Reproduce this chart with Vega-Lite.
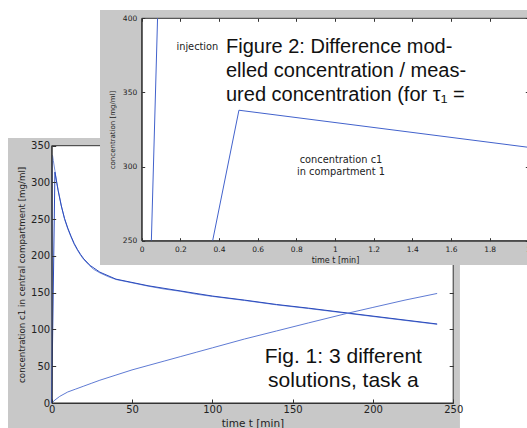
{
  "$schema": "https://vega.github.io/schema/vega-lite/v6.json",
  "width": 527,
  "height": 428,
  "padding": 0,
  "autosize": "none",
  "background": "white",
  "config": {
    "view": {"stroke": null},
    "axis": {
      "grid": false,
      "labelFont": "DejaVu Sans", "titleFont": "DejaVu Sans", "titleFontWeight": "normal",
      "labelColor": "#222", "titleColor": "#222", "domainColor": "#333", "tickColor": "#333",
      "labelFlush": false, "labelOverlap": false, "labelBound": false
    }
  },
  "datasets": {
    "fig1": [
      {"s": "solution 1", "t": 0, "c": 0}, {"s": "solution 1", "t": 0.5, "c": 337}, {"s": "solution 1", "t": 1, "c": 330},
      {"s": "solution 1", "t": 2, "c": 316}, {"s": "solution 1", "t": 3, "c": 302}, {"s": "solution 1", "t": 4, "c": 290},
      {"s": "solution 1", "t": 5, "c": 279}, {"s": "solution 1", "t": 6, "c": 268}, {"s": "solution 1", "t": 8, "c": 250},
      {"s": "solution 1", "t": 10, "c": 237}, {"s": "solution 1", "t": 12, "c": 226}, {"s": "solution 1", "t": 14, "c": 216},
      {"s": "solution 1", "t": 16, "c": 208}, {"s": "solution 1", "t": 18, "c": 201}, {"s": "solution 1", "t": 20, "c": 195},
      {"s": "solution 1", "t": 23, "c": 188}, {"s": "solution 1", "t": 26, "c": 182}, {"s": "solution 1", "t": 30, "c": 177},
      {"s": "solution 1", "t": 35, "c": 172}, {"s": "solution 1", "t": 40, "c": 168}, {"s": "solution 1", "t": 50, "c": 163.5},
      {"s": "solution 1", "t": 60, "c": 159}, {"s": "solution 1", "t": 70, "c": 155}, {"s": "solution 1", "t": 80, "c": 152},
      {"s": "solution 1", "t": 90, "c": 148}, {"s": "solution 1", "t": 100, "c": 145}, {"s": "solution 1", "t": 120, "c": 139.5},
      {"s": "solution 1", "t": 140, "c": 133.5}, {"s": "solution 1", "t": 160, "c": 128.5}, {"s": "solution 1", "t": 184, "c": 122},
      {"s": "solution 1", "t": 210, "c": 115}, {"s": "solution 1", "t": 240, "c": 107},
      {"s": "solution 2", "t": 0, "c": 0}, {"s": "solution 2", "t": 2, "c": 314}, {"s": "solution 2", "t": 4, "c": 289},
      {"s": "solution 2", "t": 6, "c": 268}, {"s": "solution 2", "t": 8, "c": 251}, {"s": "solution 2", "t": 10, "c": 238},
      {"s": "solution 2", "t": 12, "c": 227}, {"s": "solution 2", "t": 14, "c": 217}, {"s": "solution 2", "t": 16, "c": 209},
      {"s": "solution 2", "t": 18, "c": 202}, {"s": "solution 2", "t": 20, "c": 196}, {"s": "solution 2", "t": 24, "c": 187},
      {"s": "solution 2", "t": 30, "c": 178}, {"s": "solution 2", "t": 40, "c": 168.5}, {"s": "solution 2", "t": 50, "c": 164},
      {"s": "solution 2", "t": 60, "c": 159.5}, {"s": "solution 2", "t": 80, "c": 152.5}, {"s": "solution 2", "t": 100, "c": 145.5},
      {"s": "solution 2", "t": 120, "c": 140}, {"s": "solution 2", "t": 140, "c": 134}, {"s": "solution 2", "t": 160, "c": 129},
      {"s": "solution 2", "t": 184, "c": 122.5}, {"s": "solution 2", "t": 210, "c": 115.5}, {"s": "solution 2", "t": 240, "c": 107.5},
      {"s": "solution 3", "t": 0, "c": 0}, {"s": "solution 3", "t": 2, "c": 4}, {"s": "solution 3", "t": 5, "c": 9},
      {"s": "solution 3", "t": 10, "c": 15}, {"s": "solution 3", "t": 15, "c": 19}, {"s": "solution 3", "t": 20, "c": 23},
      {"s": "solution 3", "t": 25, "c": 27}, {"s": "solution 3", "t": 30, "c": 31}, {"s": "solution 3", "t": 40, "c": 38},
      {"s": "solution 3", "t": 50, "c": 45}, {"s": "solution 3", "t": 60, "c": 51}, {"s": "solution 3", "t": 70, "c": 57},
      {"s": "solution 3", "t": 80, "c": 63}, {"s": "solution 3", "t": 90, "c": 69}, {"s": "solution 3", "t": 100, "c": 75},
      {"s": "solution 3", "t": 120, "c": 87}, {"s": "solution 3", "t": 140, "c": 98}, {"s": "solution 3", "t": 160, "c": 109},
      {"s": "solution 3", "t": 184, "c": 122}, {"s": "solution 3", "t": 200, "c": 130}, {"s": "solution 3", "t": 220, "c": 140},
      {"s": "solution 3", "t": 240, "c": 149}
    ],
    "fig2": [
      {"seg": "injection", "t": 0.05, "c": 250}, {"seg": "injection", "t": 0.082, "c": 400},
      {"seg": "c1", "t": 0.367, "c": 250}, {"seg": "c1", "t": 0.503, "c": 338}, {"seg": "c1", "t": 2, "c": 313}
    ]
  },
  "layer": [
    {
      "data": {"values": [{}]},
      "mark": {"type": "rect", "fill": "#c8c8c8"},
      "encoding": {
        "x": {"datum": -27.2, "type": "quantitative", "scale": {"domain": [0, 250], "range": [51.7, 453.2], "nice": false, "zero": false}, "axis": null},
        "x2": {"datum": 254.2},
        "y": {"datum": -37, "type": "quantitative", "scale": {"domain": [0, 350], "range": [403, 145.7], "nice": false, "zero": false}, "axis": null},
        "y2": {"datum": 360.5}
      }
    },
    {
      "data": {"values": [{}]},
      "mark": {"type": "rect", "fill": "white", "stroke": "#333", "strokeWidth": 1},
      "encoding": {
        "x": {"datum": 0, "type": "quantitative", "scale": {"domain": [0, 250], "range": [51.7, 453.2], "nice": false, "zero": false},
          "axis": {"zindex": 1, "orient": "bottom", "offset": -25, "values": [0, 50, 100, 150, 200, 250], "tickSize": -4, "labelPadding": 5.5, "labelFontSize": 10, "title": "time t [min]", "titleFontSize": 10.5, "titlePadding": 4}},
        "x2": {"datum": 250},
        "y": {"datum": 0, "type": "quantitative", "scale": {"domain": [0, 350], "range": [403, 145.7], "nice": false, "zero": false},
          "axis": {"zindex": 1, "orient": "left", "offset": -51.7, "values": [0, 50, 100, 150, 200, 250, 300, 350], "tickSize": -4, "labelPadding": 6, "labelFontSize": 10, "title": "concentration c1 in central compartment [mg/ml]", "titleFontSize": 8.7, "titlePadding": 4}},
        "y2": {"datum": 350}
      }
    },
    {
      "data": {"name": "fig1"},
      "mark": {"type": "line", "strokeWidth": 1},
      "encoding": {
        "x": {"field": "t", "type": "quantitative", "scale": {"domain": [0, 250], "range": [51.7, 453.2], "nice": false, "zero": false}, "axis": null},
        "y": {"field": "c", "type": "quantitative", "scale": {"domain": [0, 350], "range": [403, 145.7], "nice": false, "zero": false}, "axis": null},
        "color": {"field": "s", "type": "nominal", "scale": {"domain": ["solution 1", "solution 2", "solution 3"], "range": ["#7890da", "#2a4abd", "#5f7bd4"]}, "legend": null}
      }
    },
    {
      "data": {"values": [{"note": "Fig. 1: 3 different\nsolutions, task a"}]},
      "mark": {"type": "text", "font": "Liberation Sans", "fontSize": 21, "align": "center", "baseline": "alphabetic", "lineBreak": "\n", "lineHeight": 24, "color": "#111"},
      "encoding": {
        "x": {"datum": 181.6, "type": "quantitative", "scale": {"domain": [0, 250], "range": [51.7, 453.2], "nice": false, "zero": false}, "axis": null},
        "y": {"datum": 54, "type": "quantitative", "scale": {"domain": [0, 350], "range": [403, 145.7], "nice": false, "zero": false},
          "axis": {"zindex": 1, "orient": "right", "offset": -73.8, "values": [50, 100, 150], "labels": false, "domain": false, "tickSize": -4, "title": null}},
        "text": {"field": "note", "type": "nominal"}
      }
    },
    {
      "data": {"values": [{}]},
      "mark": {"type": "rect", "fill": "#c8c8c8"},
      "encoding": {
        "x": {"datum": -0.2157, "type": "quantitative", "scale": {"domain": [0, 2], "range": [141.7, 528.3], "nice": false, "zero": false}, "axis": null},
        "x2": {"datum": 2.2},
        "y": {"datum": 233.6, "type": "quantitative", "scale": {"domain": [250, 400], "range": [240.7, 18.3], "nice": false, "zero": false}, "axis": null},
        "y2": {"datum": 405.6}
      }
    },
    {
      "data": {"values": [{}]},
      "mark": {"type": "rect", "fill": "white", "stroke": "#333", "strokeWidth": 1},
      "encoding": {
        "x": {"datum": 0, "type": "quantitative", "scale": {"domain": [0, 2], "range": [141.7, 528.3], "nice": false, "zero": false},
          "axis": {"zindex": 2, "orient": "bottom", "offset": -187.3, "values": [0, 0.2, 0.4, 0.6, 0.8, 1, 1.2, 1.4, 1.6, 1.8, 2], "format": "~g", "tickSize": -3, "labelPadding": 7.5, "labelFontSize": 7.5, "title": "time t [min]", "titleFontSize": 8, "titlePadding": 4}},
        "x2": {"datum": 2},
        "y": {"datum": 250, "type": "quantitative", "scale": {"domain": [250, 400], "range": [240.7, 18.3], "nice": false, "zero": false},
          "axis": {"zindex": 2, "orient": "left", "offset": -141.7, "values": [250, 300, 350, 400], "tickSize": -3, "labelPadding": 8, "labelFontSize": 7.5, "title": "concentration [mg/ml]", "titleFontSize": 7, "titlePadding": 6.5}},
        "y2": {"datum": 400}
      }
    },
    {
      "data": {"name": "fig2"},
      "mark": {"type": "line", "strokeWidth": 1, "color": "#4262cc"},
      "encoding": {
        "x": {"field": "t", "type": "quantitative", "scale": {"domain": [0, 2], "range": [141.7, 528.3], "nice": false, "zero": false}, "axis": null},
        "y": {"field": "c", "type": "quantitative", "scale": {"domain": [250, 400], "range": [240.7, 18.3], "nice": false, "zero": false}, "axis": null},
        "detail": {"field": "seg", "type": "nominal"}
      }
    },
    {
      "data": {"values": [{"note": "injection"}]},
      "mark": {"type": "text", "font": "DejaVu Sans", "fontSize": 9.8, "align": "center", "baseline": "alphabetic", "color": "#222"},
      "encoding": {
        "x": {"datum": 0.288, "type": "quantitative", "scale": {"domain": [0, 2], "range": [141.7, 528.3], "nice": false, "zero": false},
          "axis": {"zindex": 2, "orient": "top", "offset": -18.3, "values": [0, 0.2, 0.4, 0.6, 0.8, 1, 1.2, 1.4, 1.6, 1.8, 2], "labels": false, "domain": false, "tickSize": -3, "title": null}},
        "y": {"datum": 378.3, "type": "quantitative", "scale": {"domain": [250, 400], "range": [240.7, 18.3], "nice": false, "zero": false},
          "axis": {"zindex": 2, "orient": "right", "offset": 1.3, "values": [250, 300, 350, 400], "labels": false, "domain": false, "tickSize": -3, "title": null}},
        "text": {"field": "note", "type": "nominal"}
      }
    },
    {
      "data": {"values": [{"note": "Figure 2: Difference mod-\nelled concentration / meas-\nured concentration (for τ₁ ="}]},
      "mark": {"type": "text", "font": "Liberation Sans", "fontSize": 20, "align": "left", "baseline": "alphabetic", "lineBreak": "\n", "lineHeight": 24, "color": "#111"},
      "encoding": {
        "x": {"datum": 0.436, "type": "quantitative", "scale": {"domain": [0, 2], "range": [141.7, 528.3], "nice": false, "zero": false}, "axis": null},
        "y": {"datum": 376.9, "type": "quantitative", "scale": {"domain": [250, 400], "range": [240.7, 18.3], "nice": false, "zero": false}, "axis": null},
        "text": {"field": "note", "type": "nominal"}
      }
    },
    {
      "data": {"values": [{"note": "concentration c1\nin compartment 1"}]},
      "mark": {"type": "text", "font": "DejaVu Sans", "fontSize": 9.8, "align": "center", "baseline": "alphabetic", "lineBreak": "\n", "lineHeight": 12, "color": "#222"},
      "encoding": {
        "x": {"datum": 1.031, "type": "quantitative", "scale": {"domain": [0, 2], "range": [141.7, 528.3], "nice": false, "zero": false}, "axis": null},
        "y": {"datum": 302.7, "type": "quantitative", "scale": {"domain": [250, 400], "range": [240.7, 18.3], "nice": false, "zero": false}, "axis": null},
        "text": {"field": "note", "type": "nominal"}
      }
    }
  ],
  "resolve": {"scale": {"x": "independent", "y": "independent"}, "axis": {"x": "independent", "y": "independent"}}
}
